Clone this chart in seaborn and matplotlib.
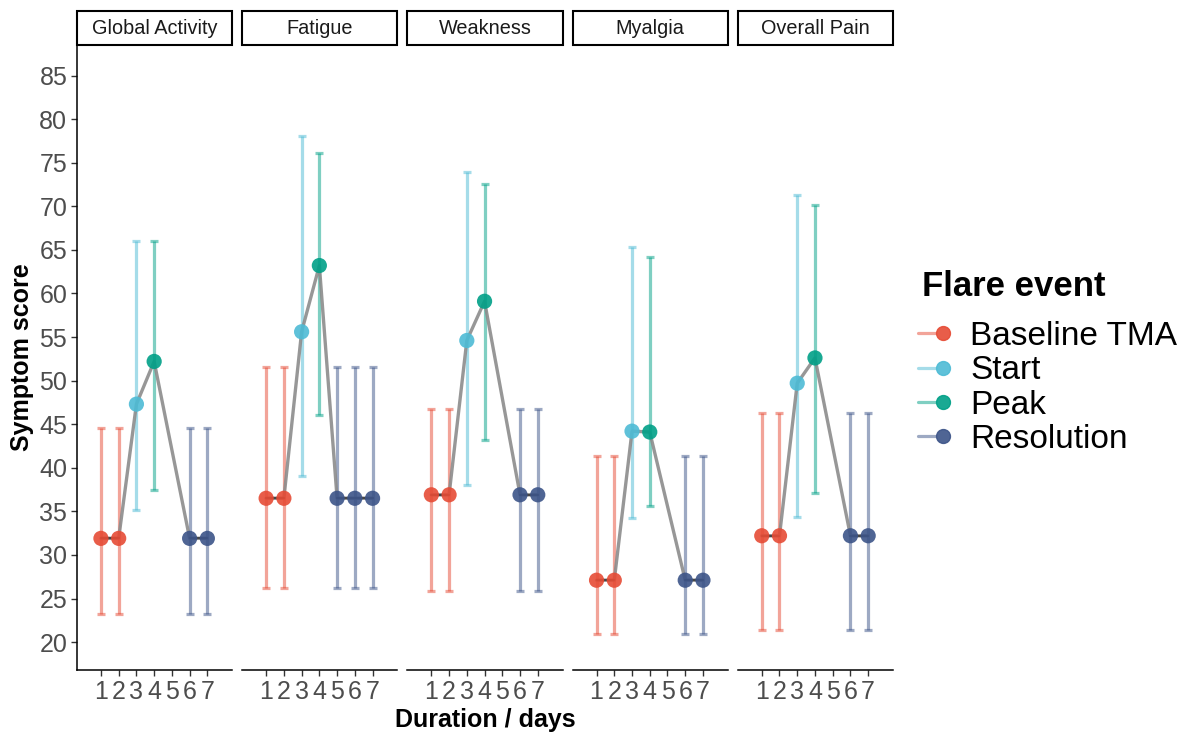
import numpy as np
import pandas as pd
import matplotlib
matplotlib.use("Agg")
import matplotlib.pyplot as plt
import seaborn as sns
from matplotlib.patches import Rectangle
from matplotlib.lines import Line2D
from matplotlib.legend_handler import HandlerTuple

# Dados
symptoms = ["Global Activity", "Fatigue", "Weakness", "Myalgia", "Overall Pain"]
events = ["Baseline TMA", "Start", "Peak", "Resolution"]
colors = ["#E64B35", "#4DBBD5", "#00A087", "#3C5488"]

baseline_days = [[1, 2], [1, 2], [1, 2], [1, 2], [1, 2]]
start_days = [[3], [3], [3], [3], [3]]
peak_days = [[4], [4], [4], [4], [4]]
resolution_days = [[6, 7], [5, 6, 7], [6, 7], [6, 7], [6, 7]]

baseline_mean = [31.9, 36.5, 36.9, 27.1, 32.2]
baseline_lo = [23.2, 26.2, 25.9, 20.9, 21.4]
baseline_hi = [44.6, 51.6, 46.7, 41.3, 46.3]

start_mean = [47.3, 55.6, 54.6, 44.2, 49.7]
start_lo = [35.1, 39.0, 38.0, 34.2, 34.4]
start_hi = [66.0, 78.1, 73.9, 65.3, 71.3]

peak_mean = [52.2, 63.2, 59.1, 44.1, 52.6]
peak_lo = [37.4, 46.1, 43.2, 35.6, 37.1]
peak_hi = [66.0, 76.1, 72.6, 64.2, 70.1]

resolution_mean = [31.9, 36.5, 36.9, 27.1, 32.2]
resolution_lo = [23.2, 26.2, 25.9, 20.9, 21.4]
resolution_hi = [44.6, 51.6, 46.7, 41.3, 46.3]

y_ticks = [20, 25, 30, 35, 40, 45, 50, 55, 60, 65, 70, 75, 80, 85]
x_ticks = [1, 2, 3, 4, 5, 6, 7]

# Montando a tabela longa
Linhas = []
Fontes = [
    ("Baseline TMA", baseline_days, baseline_mean, baseline_lo, baseline_hi),
    ("Start", start_days, start_mean, start_lo, start_hi),
    ("Peak", peak_days, peak_mean, peak_lo, peak_hi),
    ("Resolution", resolution_days, resolution_mean, resolution_lo, resolution_hi),
]
for i, s in enumerate(symptoms):
    for ev, dias, m, lo, hi in Fontes:
        for d in dias[i]:
            Linhas.append({"symptom": s, "event": ev, "day": d,
                           "score": m[i], "lo": lo[i], "hi": hi[i]})
Base = pd.DataFrame(Linhas)

pal = dict(zip(events, colors))

# Estilo
sns.set_style("white")
plt.rcParams["font.family"] = ["Liberation Sans", "DejaVu Sans"]

fig, axes = plt.subplots(1, 5, figsize=(11.95, 7.34), dpi=100, sharey=True)
fig.subplots_adjust(left=77 / 1195, right=893 / 1195,
                    bottom=1 - 670 / 734, top=1 - 45 / 734, wspace=0.0645)

for i, (ax, s) in enumerate(zip(axes, symptoms)):
    sub = Base[Base["symptom"] == s].sort_values("day")

    # Barras de erro
    for ev in events:
        e = sub[sub["event"] == ev]
        ax.errorbar(e["day"], e["score"],
                    yerr=[e["score"] - e["lo"], e["hi"] - e["score"]],
                    fmt="none", ecolor=pal[ev], alpha=0.5, elinewidth=2.3,
                    capsize=3.2, capthick=2.3, zorder=1)

    # Linha cinza
    sns.lineplot(data=sub, x="day", y="score", estimator=None, sort=True,
                 color="#8c8c8c", lw=2.4, alpha=0.9, ax=ax, zorder=2)
    sns.lineplot(data=sub, x="day", y="score", units="event", estimator=None,
                 color="#333333", lw=1.6, alpha=0.8, ax=ax, zorder=2.5)

    # Pontos
    sns.scatterplot(data=sub, x="day", y="score", hue="event", palette=pal,
                    s=120, alpha=0.9, edgecolor="none", legend=False,
                    ax=ax, zorder=3)

    ax.set_xlim(-0.35, 8.4)
    ax.set_ylim(16.8, 88.5)
    ax.set_xticks(x_ticks)
    ax.set_xticklabels([str(t) for t in x_ticks])
    ax.set_xlabel("")
    ax.set_ylabel("")
    ax.tick_params(axis="x", length=4, width=1, color="#333333",
                   labelsize=18, labelcolor="#4D4D4D", pad=3, bottom=True)

    for sp in ["top", "right"]:
        ax.spines[sp].set_visible(False)
    ax.spines["bottom"].set_color("black")
    ax.spines["bottom"].set_linewidth(1.1)
    if i == 0:
        ax.spines["left"].set_color("black")
        ax.spines["left"].set_linewidth(1.1)
        ax.set_yticks(y_ticks)
        ax.tick_params(axis="y", length=4, width=1, color="#333333",
                       labelsize=18, labelcolor="#4D4D4D", pad=3, left=True)
    else:
        ax.spines["left"].set_visible(False)
        ax.tick_params(axis="y", left=False, labelleft=False)

    # Faixa do painel
    ax.add_patch(Rectangle((0, 1.0), 1, 34 / 625, transform=ax.transAxes,
                           facecolor="white", edgecolor="black", lw=1.5,
                           clip_on=False))
    ax.text(0.5, 1.0 + 17 / 625, s, transform=ax.transAxes, ha="center",
            va="center", fontsize=14.3, color="#1A1A1A")

axes[0].set_ylabel("Symptom score", fontsize=18, fontweight="bold",
                   labelpad=4, color="black")
fig.text(485 / 1195, 1 - 720 / 734, "Duration / days", ha="center",
         va="center", fontsize=18, fontweight="bold", color="black")

# Legenda
fig.text(922 / 1195, 1 - 286 / 734, "Flare event", ha="left", va="center",
         fontsize=25, fontweight="bold", color="black")
Handles = [
    (Line2D([], [], color=c, lw=2.3, alpha=0.5),
     Line2D([], [], color=c, marker="o", ms=10, lw=0, alpha=0.9))
    for c in colors
]
leg = fig.legend(Handles, events, loc="upper left",
                 bbox_to_anchor=(918 / 1195, 1 - 321 / 734), frameon=False,
                 fontsize=24, borderpad=0, borderaxespad=0,
                 handler_map={tuple: HandlerTuple(ndivide=None, pad=0)},
                 handlelength=1.0, handletextpad=0.56, labelspacing=0.1,
                 labelcolor="black")

fig.savefig("out.png", dpi=100)
